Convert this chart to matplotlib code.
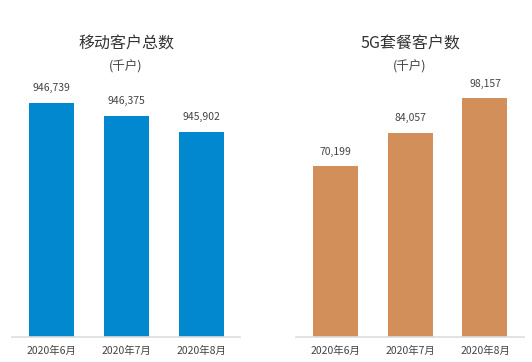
import matplotlib.pyplot as plt

plt.rcParams['font.family'] = ['Noto Sans CJK SC', 'DejaVu Sans']

months = ['2020年6月', '2020年7月', '2020年8月']
mobile_users = [946739, 946375, 945902]
users_5g = [70199, 84057, 98157]
titles = ['移动客户总数', '5G套餐客户数']
unit = '(千户)'

blue = '#0288cf'
orange = '#d38f5a'
txt = '#444444'

fig = plt.figure(figsize=(5.32, 3.62), dpi=100)
W, H = 532, 362

def make_ax(left_px, right_px, values, color, ylim):
    top_px, base_px = 90, 337
    ax = fig.add_axes([left_px / W, (H - base_px) / H,
                       (right_px - left_px) / W, (base_px - top_px) / H])
    x = range(len(values))
    bars = ax.bar(x, values, width=0.6, color=color, zorder=2)
    for b, v in zip(bars, values):
        ax.annotate(f'{v:,}', (b.get_x() + b.get_width() / 2, v),
                    xytext=(0, 7), textcoords='offset points',
                    ha='center', va='bottom', fontsize=7.5, color=txt)
    ax.set_xlim(-0.52, 2.52)
    ax.set_ylim(*ylim)
    ax.set_xticks(list(x))
    ax.set_xticklabels(months, fontsize=7.5, color=txt)
    ax.tick_params(axis='x', length=0, pad=6)
    ax.set_yticks([])
    for s in ['left', 'right', 'top']:
        ax.spines[s].set_visible(False)
    ax.spines['bottom'].set_color('#dddddd')
    ax.spines['bottom'].set_linewidth(1.2)
    ax.set_facecolor('none')
    return ax

make_ax(12, 240, mobile_users, blue, (940000, 947114))
make_ax(296, 524, users_5g, orange, (0, 101562))

for cx, t in zip([126, 410], titles):
    fig.text(cx / W, 1 - 44 / H, t, ha='center', va='center', fontsize=11.5, color='#333333')
    fig.text(cx / W, 1 - 67 / H, unit, ha='center', va='center', fontsize=9, color=txt)

fig.savefig('out.png', dpi=100)
